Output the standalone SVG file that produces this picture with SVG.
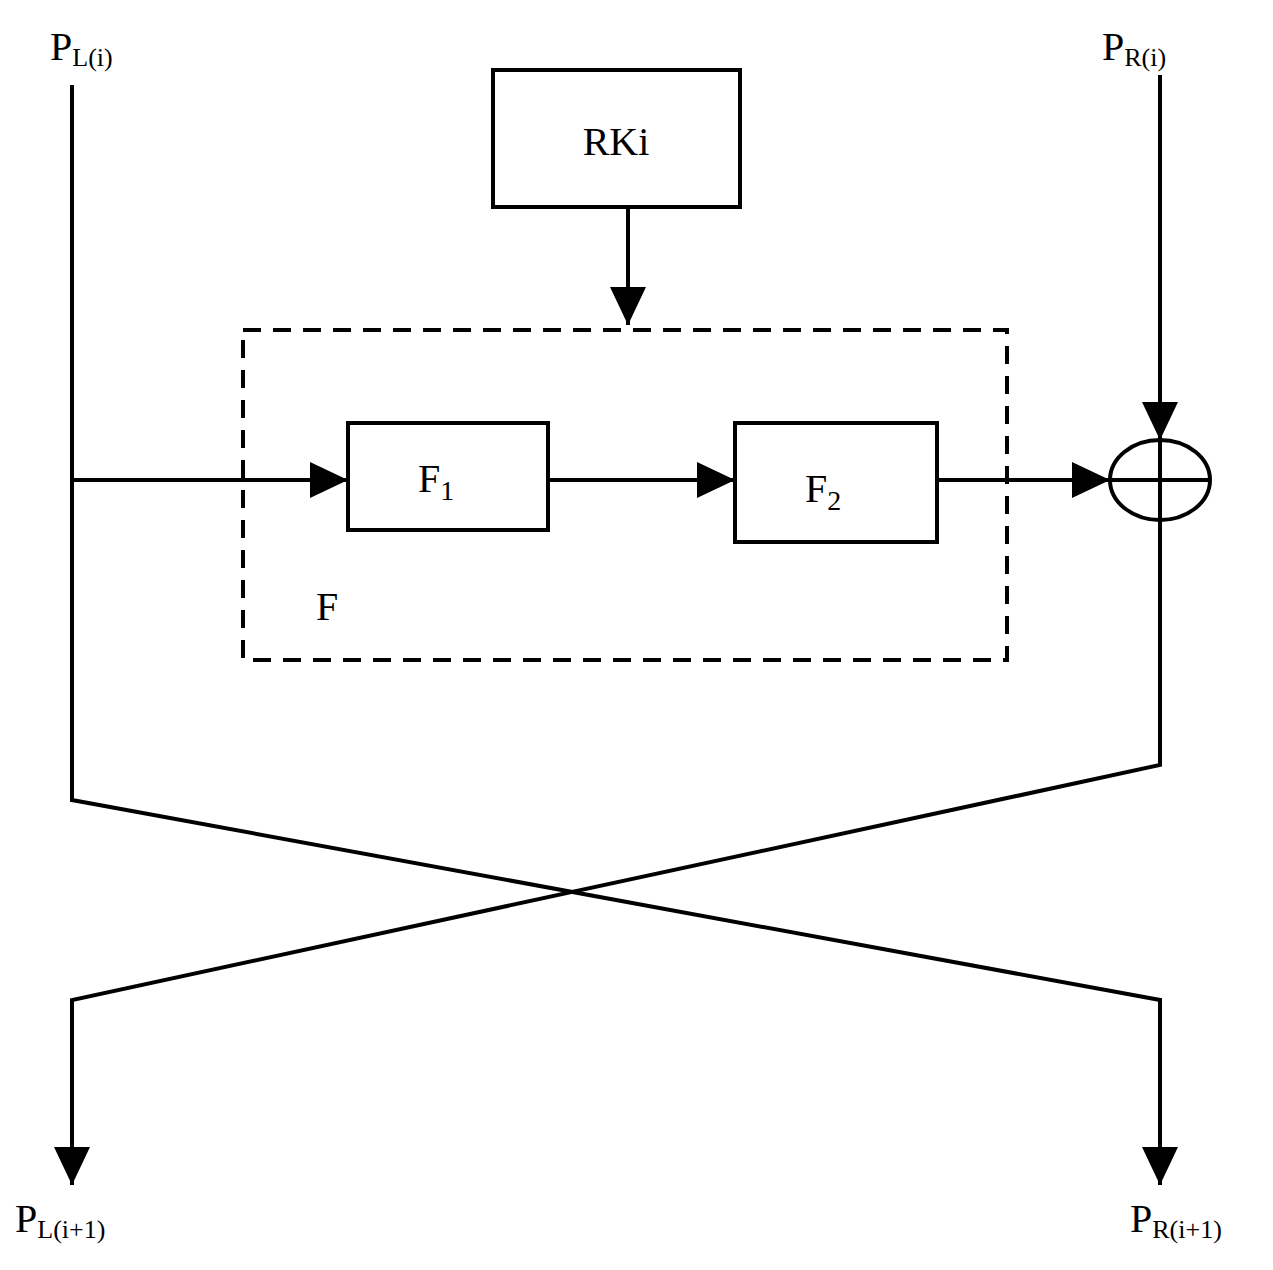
<svg xmlns="http://www.w3.org/2000/svg" width="1273" height="1270" viewBox="0 0 1273 1270">
<style>
.l{stroke:#000;stroke-width:4;fill:none}
.b{stroke:#000;stroke-width:4;fill:#fff}
.t{font-family:"Liberation Serif",serif;fill:#000}
</style>
<defs>
<marker id="a" viewBox="0 0 10 10" refX="10" refY="5" markerWidth="10" markerHeight="10" markerUnits="userSpaceOnUse" orient="auto">
<path d="M0,0L10,5L0,10z" fill="#000"/>
</marker>
<marker id="A" viewBox="0 0 10 10" refX="10" refY="5" markerWidth="38" markerHeight="36" markerUnits="userSpaceOnUse" orient="auto" preserveAspectRatio="none">
<path d="M0,0L10,5L0,10z" fill="#000"/>
</marker>
</defs>
<rect width="1273" height="1270" fill="#fff"/>
<g id="connectors">
<path class="l" d="M72,85V800L1160,1000V1185" marker-end="url(#A)"/>
<path class="l" d="M1160,520V765L72,1000V1185" marker-end="url(#A)"/>
<path class="l" d="M1160,75V440" marker-end="url(#A)"/>
<path class="l" d="M628,207V325" marker-end="url(#A)"/>
<path class="l" d="M72,480H348" marker-end="url(#A)"/>
<path class="l" d="M548,480H735" marker-end="url(#A)"/>
<path class="l" d="M937,480H1110" marker-end="url(#A)"/>
</g>
<g id="F"><rect x="243" y="330" width="764" height="330" class="l" stroke-dasharray="18,12"/><text class="t" x="316" y="620" font-size="40">F</text></g>
<g id="RKi"><rect x="493" y="70" width="247" height="137" class="b"/><text class="t" x="616" y="155" font-size="40" text-anchor="middle">RKi</text></g>
<g id="F1"><rect x="348" y="423" width="200" height="107" class="b"/><text class="t" x="418" y="492" font-size="40">F<tspan font-size="28" dy="8">1</tspan></text></g>
<g id="F2"><rect x="735" y="423" width="202" height="119" class="b"/><text class="t" x="805" y="502" font-size="40">F<tspan font-size="28" dy="8">2</tspan></text></g>
<g id="xor"><ellipse cx="1160" cy="480" rx="50" ry="40" class="l"/><path class="l" d="M1110,480H1210M1160,440V520"/></g>
<g id="labels">
<text class="t" x="50" y="60" font-size="40">P<tspan font-size="26" dy="6">L(i)</tspan></text>
<text class="t" x="1102" y="60" font-size="40">P<tspan font-size="26" dy="6">R(i)</tspan></text>
<text class="t" x="15" y="1232" font-size="40">P<tspan font-size="26" dy="6">L(i+1)</tspan></text>
<text class="t" x="1130" y="1232" font-size="40">P<tspan font-size="26" dy="6">R(i+1)</tspan></text>
</g>
</svg>
